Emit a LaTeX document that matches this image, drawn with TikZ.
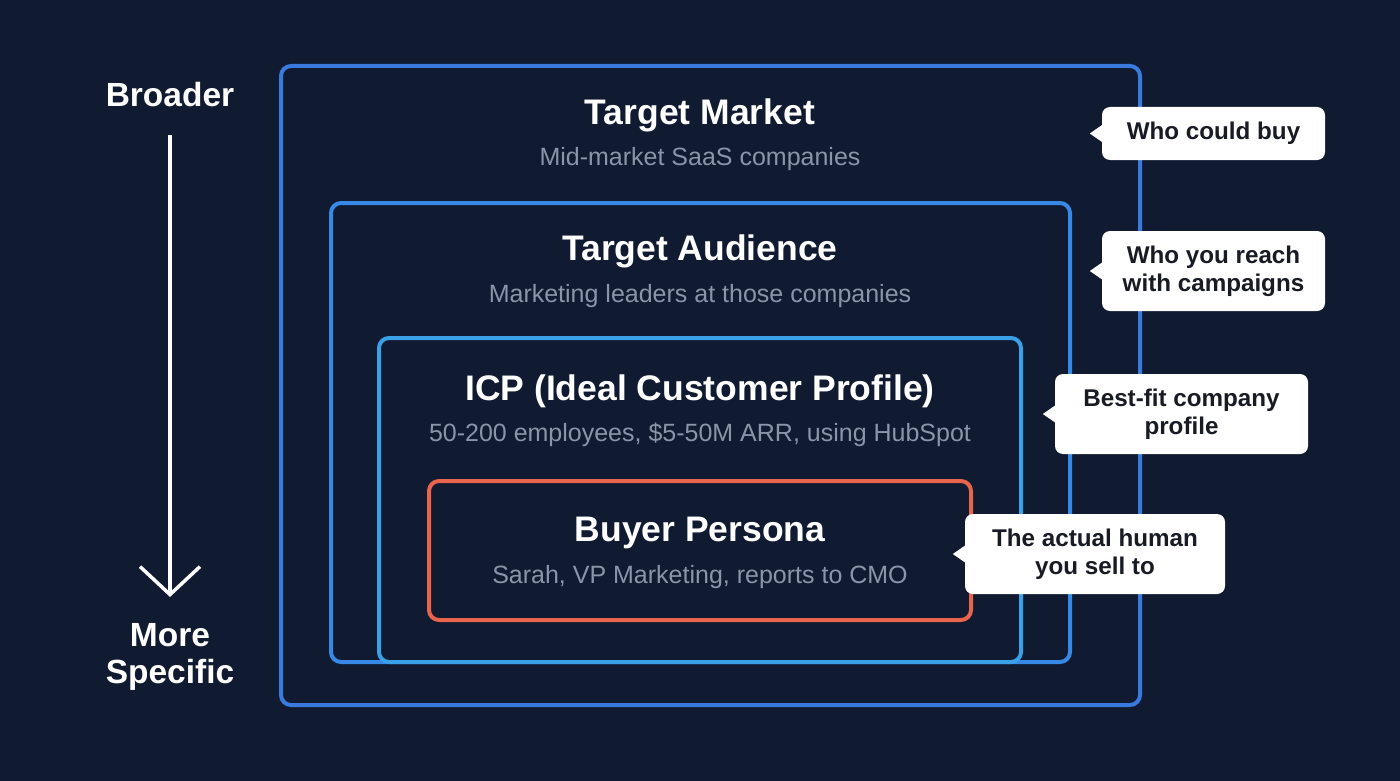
\documentclass[tikz,border=0pt]{standalone}
\usepackage{fontspec}
\setmainfont{Liberation Sans}
\usetikzlibrary{arrows.meta,calc}
\definecolor{bgc}{RGB}{16,26,48}
\definecolor{marketc}{RGB}{58,122,222}
\definecolor{audiencec}{RGB}{56,136,230}
\definecolor{icpc}{RGB}{58,160,232}
\definecolor{personac}{RGB}{232,100,76}
\definecolor{subc}{RGB}{138,150,168}
\definecolor{tipc}{RGB}{24,26,36}
\tikzset{
  ttl/.style={text=white,font=\bfseries\fontsize{35.5}{38}\selectfont},
  sub/.style={text=subc,font=\fontsize{25}{28}\selectfont},
  tipbox/.style={fill=white,rounded corners=8pt,text=tipc,align=center,
    font=\bfseries\fontsize{24.2}{28}\selectfont,inner xsep=12pt,inner ysep=9pt},
  side/.style={text=white,align=center,font=\bfseries\fontsize{33.5}{37}\selectfont}
}
\begin{document}
\begin{tikzpicture}[x=1pt,y=-1pt,>={Straight Barb[length=28pt,width=60pt]}]
% background
\fill[bgc] (0,0) rectangle (1400,781);
\useasboundingbox (0,0) rectangle (1400,781);
% nested boxes
\foreach \xa/\ya/\xb/\yb/\col in {281/66/1140/705/marketc,331/203/1070/662/audiencec,
  379/338/1021/662/icpc,429/481/971/620/personac}{
  \draw[\col,line width=4pt,rounded corners=10pt] (\xa,\ya) rectangle (\xb,\yb);
}
% titles and subtitles
\node[ttl] (mkt) at (700,115) {Target Market};
\node[sub] (mktsub) at (700,159) {Mid-market SaaS companies};
\node[ttl] (aud) at (700,251) {Target Audience};
\node[sub] (audsub) at (700,296) {Marketing leaders at those companies};
\node[ttl] (icp) at (700,391) {ICP (Ideal Customer Profile)};
\node[sub] (icpsub) at (700,435) {50-200 employees, \$5-50M ARR, using HubSpot};
\node[ttl] (per) at (700,533) {Buyer Persona};
\node[sub] (persub) at (700,577) {Sarah, VP Marketing, reports to CMO};
% callouts
\node[tipbox,minimum width=223pt,minimum height=53pt] (tipmkt) at (1213.5,133.5) {Who could buy};
\node[tipbox,minimum width=223pt,minimum height=80pt] (tipaud) at (1213.5,271) {Who you reach\\with campaigns};
\node[tipbox,minimum width=253pt,minimum height=80pt] (tipicp) at (1181.5,414) {Best-fit company\\profile};
\node[tipbox,minimum width=260pt,minimum height=80pt] (tipper) at (1095,554) {The actual human\\you sell to};
\foreach \t in {tipmkt,tipaud,tipicp,tipper}{
  \fill[white] ($(\t.west)+(1,-9)$) -- ++(-13,9) -- ++(13,9) -- cycle;
}
% broader / more specific
\node[side] (broad) at (170,95) {Broader};
\node[side] (spec) at (170,657) {More\\Specific};
\draw[->,white,line width=3.5pt] ($(broad.south)+(0,24)$) -- ($(spec.north)+(0,-23)$);
\end{tikzpicture}
\end{document}
